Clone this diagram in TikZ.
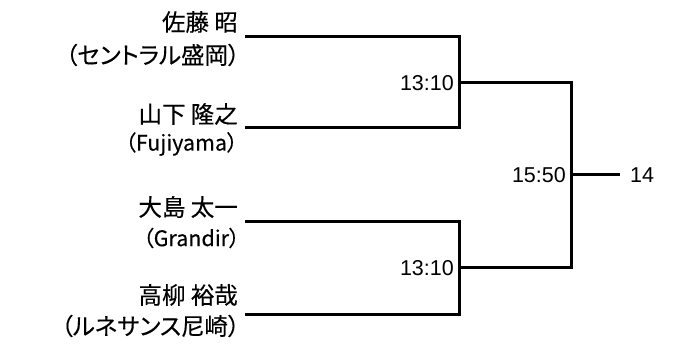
\documentclass[tikz,border=0pt]{standalone}
\usepackage{fontspec}
\setmainfont{Liberation Sans}
\newfontfamily\jp[RawFeature=+palt,FakeBold=0.3]{Noto Sans CJK JP}
\begin{document}
\begin{tikzpicture}[x=1pt,y=-1pt,
  wire/.style={line width=3pt, line cap=rect},
  player/.style={anchor=east, inner sep=0pt, align=right, font=\jp\fontsize{23.5}{28}\selectfont},
  club/.style={player, font=\jp\fontsize{21.5}{26}\selectfont},
  score/.style={anchor=east, inner sep=0pt, font=\fontsize{21.5}{26}\selectfont},
  result/.style={anchor=west, inner sep=0pt, font=\fontsize{21.5}{26}\selectfont}]
\useasboundingbox (0,0) rectangle (677,347);
% players
\node[player] (p1a) at (238,22) {佐藤 昭};
\node[player] (p1b) at (240,55) {（セントラル盛岡）};
\node[player] (p2a) at (238,114) {山下 隆之};
\node[club] (p2b) at (238,144) {（Fujiyama）};
\node[player] (p3a) at (238,207) {大島 太一};
\node[club] (p3b) at (240,238) {（Grandir）};
\node[player] (p4a) at (238,295) {高柳 裕哉};
\node[player] (p4b) at (240,326) {（ルネサンス尼崎）};
% line coordinates
\coordinate (l1) at (246,37);  \coordinate (r1) at (459,37);
\coordinate (l2) at (246,128); \coordinate (r2) at (459,128);
\coordinate (l3) at (246,222); \coordinate (r3) at (459,222);
\coordinate (l4) at (246,314); \coordinate (r4) at (459,314);
\coordinate (m1) at (459,83);  \coordinate (f1) at (571,83);
\coordinate (m2) at (459,268); \coordinate (f2) at (571,268);
\coordinate (c) at (571,175);  \coordinate (e) at (618,175);
% bracket
\draw[wire] (l1) -- (r1) -- (r2) -- (l2);
\draw[wire] (l3) -- (r3) -- (r4) -- (l4);
\draw[wire] (m1) -- (f1);
\draw[wire] (m2) -- (f2);
\draw[wire] (f1) -- (f2);
\draw[wire] (c) -- (e);
% scores
\node[score] (s1) at (454,83) {13:10};
\node[score] (s2) at (454,268) {13:10};
\node[score] (s3) at (566,175) {15:50};
\node[result] (w) at (630,175) {14};
\end{tikzpicture}
\end{document}
